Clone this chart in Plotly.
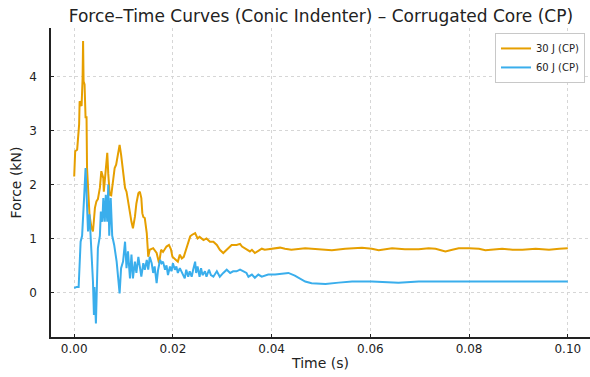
import plotly.graph_objects as go

# Force-time histories for the corrugated-core (CP) panels, conic indenter
time_30j = [0.0000, 0.0002, 0.0006, 0.0008, 0.0010, 0.0011, 0.0015, 0.0017, 0.0018, 0.0019,
            0.0021, 0.0023, 0.0025, 0.0026, 0.0028, 0.0030, 0.0031, 0.0035, 0.0038, 0.0042,
            0.0045, 0.0048, 0.0052, 0.0055, 0.0059, 0.0060, 0.0063, 0.0067, 0.0069, 0.0072,
            0.0075, 0.0079, 0.0082, 0.0085, 0.0089, 0.0092, 0.0095, 0.0099, 0.0103, 0.0106,
            0.0109, 0.0112, 0.0116, 0.0119, 0.0123, 0.0126, 0.0130, 0.0133, 0.0136, 0.0138,
            0.0140, 0.0143, 0.0147, 0.0150, 0.0153, 0.0160, 0.0167, 0.0172, 0.0176, 0.0180,
            0.0187, 0.0192, 0.0196, 0.0199, 0.0203, 0.0210, 0.0214, 0.0218, 0.0222, 0.0228,
            0.0235, 0.0239, 0.0245, 0.0250, 0.0254, 0.0262, 0.0268, 0.0275, 0.0282, 0.0289,
            0.0295, 0.0302, 0.0309, 0.0319, 0.0329, 0.0336, 0.0340, 0.0350, 0.0356, 0.0360,
            0.0366, 0.0373, 0.0380, 0.0386, 0.0400, 0.0417, 0.0427, 0.0440, 0.0468, 0.0495,
            0.0522, 0.0549, 0.0583, 0.0603, 0.0617, 0.0644, 0.0670, 0.0698, 0.0718, 0.0732,
            0.0742, 0.0752, 0.0766, 0.0779, 0.0800, 0.0820, 0.0833, 0.0847, 0.0867, 0.0888,
            0.0908, 0.0935, 0.0962, 0.0983, 0.1000]
force_30j = [2.15, 2.62, 2.65, 2.93, 3.12, 3.55, 3.46, 3.98, 4.67, 3.92,
             3.86, 3.25, 3.25, 2.31, 2.00, 1.81, 1.44, 1.20, 1.13, 1.57,
             1.69, 1.73, 1.94, 2.25, 2.12, 1.87, 2.20, 2.59, 2.20, 1.81,
             1.80, 2.12, 2.31, 2.37, 2.56, 2.74, 2.56, 2.18, 1.94, 1.87,
             1.69, 1.57, 1.31, 1.19, 1.40, 1.65, 1.84, 1.87, 1.75, 1.47,
             1.40, 1.38, 1.10, 0.66, 0.79, 0.82, 0.73, 0.54, 0.79, 0.75,
             0.85, 0.88, 0.80, 0.66, 0.63, 0.57, 0.70, 0.63, 0.66, 0.82,
             1.04, 1.07, 1.10, 1.00, 1.03, 0.97, 1.00, 0.94, 0.94, 0.88,
             0.79, 0.73, 0.79, 0.88, 0.88, 0.90, 0.85, 0.80, 0.76, 0.79,
             0.73, 0.77, 0.81, 0.79, 0.81, 0.83, 0.81, 0.79, 0.82, 0.80,
             0.78, 0.81, 0.83, 0.81, 0.78, 0.82, 0.80, 0.80, 0.82, 0.81,
             0.79, 0.76, 0.79, 0.82, 0.82, 0.81, 0.78, 0.79, 0.81, 0.79,
             0.79, 0.81, 0.79, 0.81, 0.82]

time_60j = [0.0000, 0.0005, 0.0009, 0.0011, 0.0013, 0.0016, 0.0018, 0.0020, 0.0023, 0.0025,
            0.0028, 0.0031, 0.0035, 0.0038, 0.0040, 0.0041, 0.0044, 0.0046, 0.0048, 0.0052,
            0.0054, 0.0057, 0.0059, 0.0062, 0.0064, 0.0067, 0.0069, 0.0071, 0.0074, 0.0077,
            0.0081, 0.0086, 0.0089, 0.0092, 0.0095, 0.0099, 0.0103, 0.0106, 0.0109, 0.0113,
            0.0116, 0.0119, 0.0123, 0.0126, 0.0130, 0.0133, 0.0136, 0.0140, 0.0143, 0.0147,
            0.0150, 0.0153, 0.0157, 0.0160, 0.0163, 0.0167, 0.0170, 0.0174, 0.0177, 0.0180,
            0.0184, 0.0187, 0.0190, 0.0194, 0.0197, 0.0200, 0.0204, 0.0207, 0.0210, 0.0214,
            0.0217, 0.0220, 0.0224, 0.0227, 0.0231, 0.0234, 0.0238, 0.0241, 0.0245, 0.0247,
            0.0250, 0.0254, 0.0257, 0.0260, 0.0265, 0.0268, 0.0273, 0.0277, 0.0282, 0.0289,
            0.0295, 0.0302, 0.0309, 0.0316, 0.0322, 0.0329, 0.0336, 0.0343, 0.0349, 0.0353,
            0.0360, 0.0366, 0.0373, 0.0380, 0.0393, 0.0407, 0.0420, 0.0434, 0.0447, 0.0458,
            0.0468, 0.0481, 0.0509, 0.0536, 0.0563, 0.0603, 0.0630, 0.0657, 0.0698, 0.0750,
            0.0800, 0.0850, 0.0900, 0.0950, 0.1000]
force_60j = [0.08, 0.10, 0.10, 0.45, 0.94, 1.05, 1.31, 1.75, 2.31, 1.80,
             1.13, 1.45, 0.76, 0.20, -0.42, 0.10, -0.58, 0.45, 0.82, 1.05,
             1.50, 1.31, 1.75, 1.31, 1.81, 1.31, 2.00, 1.05, 1.75, 1.05,
             0.88, 0.57, 0.20, -0.02, 0.45, 0.57, 0.94, 0.45, 0.76, 0.26,
             0.70, 0.26, 0.57, 0.36, 0.66, 0.48, 0.29, 0.54, 0.42, 0.60,
             0.42, 0.66, 0.54, 0.36, 0.48, 0.17, 0.42, 0.60, 0.54, 0.57,
             0.42, 0.50, 0.32, 0.48, 0.39, 0.54, 0.42, 0.48, 0.36, 0.45,
             0.39, 0.32, 0.26, 0.42, 0.29, 0.39, 0.29, 0.42, 0.57, 0.36,
             0.48, 0.29, 0.45, 0.32, 0.39, 0.29, 0.42, 0.32, 0.29, 0.39,
             0.29, 0.36, 0.42, 0.36, 0.39, 0.39, 0.42, 0.39, 0.36, 0.29,
             0.33, 0.27, 0.33, 0.29, 0.33, 0.33, 0.35, 0.36, 0.31, 0.26,
             0.20, 0.17, 0.155, 0.18, 0.20, 0.20, 0.19, 0.18, 0.20, 0.20,
             0.20, 0.20, 0.20, 0.20, 0.20]

x_ticks = [0.00, 0.02, 0.04, 0.06, 0.08, 0.10]
x_tick_text = ["0.00", "0.02", "0.04", "0.06", "0.08", "0.10"]
y_ticks = [0, 1, 2, 3, 4]

FONT = "DejaVu Sans"
ORANGE = "#E69F00"
BLUE = "#3AAEEC"

fig = go.Figure()
fig.add_trace(go.Scatter(x=time_30j, y=force_30j, mode="lines", name="30 J (CP)",
                         line=dict(color=ORANGE, width=2)))
fig.add_trace(go.Scatter(x=time_60j, y=force_60j, mode="lines", name="60 J (CP)",
                         line=dict(color=BLUE, width=2)))

axis_common = dict(
    showgrid=True, gridcolor="#d6d6d6", griddash="dot", gridwidth=1,
    zeroline=False, showline=True, linecolor="#222222", linewidth=1.5,
    ticks="inside", ticklen=3, tickcolor="#222222",
    tickfont=dict(family=FONT, size=12, color="#222222"),
    automargin=False,
)

fig.update_layout(
    width=590, height=377,
    margin=dict(l=51, r=0, t=28, b=40),
    paper_bgcolor="white", plot_bgcolor="white",
    font=dict(family=FONT, color="#222222"),
    title=dict(text="Force–Time Curves (Conic Indenter) – Corrugated Core (CP)",
               font=dict(family=FONT, size=17, color="#222222"),
               x=0.544, xanchor="center", y=0.958, yanchor="middle"),
    xaxis=dict(range=[-0.0047, 0.1045], tickvals=x_ticks, ticktext=x_tick_text,
               title=dict(text="Time (s)", font=dict(family=FONT, size=14), standoff=3),
               ticklabelstandoff=0, **axis_common),
    yaxis=dict(range=[-0.83, 4.91], tickvals=y_ticks,
               title=dict(text="Force (kN)", font=dict(family=FONT, size=14), standoff=4),
               ticklabelstandoff=10, **axis_common),
    legend=dict(x=0.9907, y=0.984, xanchor="right", yanchor="top",
                bgcolor="white", bordercolor="#c8c8c8", borderwidth=1,
                font=dict(family=FONT, size=10, color="#222222"),
                itemwidth=30, tracegroupgap=0),
    showlegend=True,
)

fig.write_html("out.html")
